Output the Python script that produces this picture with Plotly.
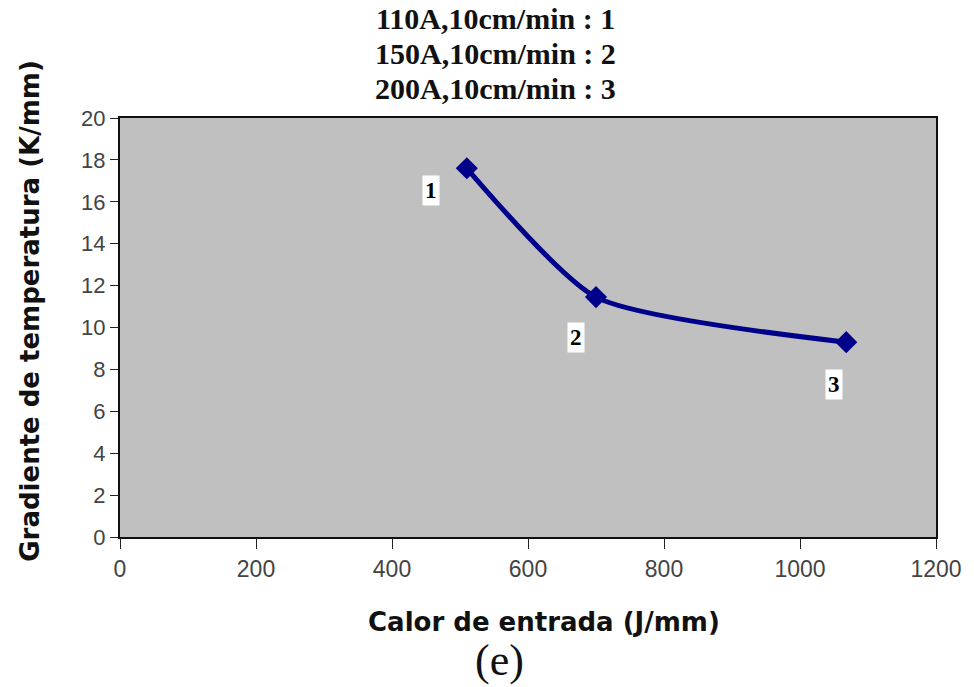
import plotly.graph_objects as go

heat_input = [510, 700, 1068]
gradient = [17.6, 11.45, 9.3]
point_labels = ["1", "2", "3"]
legend_lines = ["110A,10cm/min : 1", "150A,10cm/min : 2", "200A,10cm/min : 3"]
x_ticks = [0, 200, 400, 600, 800, 1000, 1200]
y_ticks = [0, 2, 4, 6, 8, 10, 12, 14, 16, 18, 20]
x_title = "Calor de entrada (J/mm)"
y_title = "Gradiente de temperatura (K/mm)"

fig = go.Figure()
fig.add_trace(go.Scatter(
    x=heat_input, y=gradient, mode="lines+markers",
    line=dict(color="#00008B", width=5, shape="spline", smoothing=0.6),
    marker=dict(symbol="diamond", size=17, color="#00008B"),
    showlegend=False, hoverinfo="skip"))

offsets = [(-36, 22), (-20, 40), (-12, 42)]
for xv, yv, lab, (ax, ay) in zip(heat_input, gradient, point_labels, offsets):
    fig.add_annotation(x=xv, y=yv, text="<b>" + lab + "</b>", showarrow=False,
                       xshift=ax, yshift=-ay, bgcolor="white",
                       font=dict(family="Liberation Serif", size=23, color="black"),
                       borderpad=2)

for i, line in enumerate(legend_lines):
    fig.add_annotation(xref="paper", yref="paper", x=0.46, y=1.0,
                       yshift=100 - i * 35, text="<b>" + line + "</b>",
                       showarrow=False, yanchor="middle", xanchor="center",
                       font=dict(family="Liberation Serif", size=30, color="#111"))

fig.add_annotation(xref="paper", yref="paper", x=0.465, y=0, yshift=-123,
                   text="(e)", showarrow=False, yanchor="middle",
                   font=dict(family="Liberation Serif", size=44, color="#111"))

fig.add_annotation(xref="paper", yref="paper", x=0.52, y=0, yshift=-85,
                   text="<b>" + x_title + "</b>", showarrow=False, yanchor="middle",
                   font=dict(family="DejaVu Sans", size=26, color="#111"))
fig.add_annotation(xref="paper", yref="paper", x=0, xshift=-90, y=0.54,
                   text="<b>" + y_title + "</b>", showarrow=False, textangle=-90,
                   xanchor="center", yanchor="middle",
                   font=dict(family="DejaVu Sans", size=26, color="#111"))

fig.update_layout(
    width=974, height=687,
    margin=dict(l=120, r=36, t=118, b=150),
    paper_bgcolor="white", plot_bgcolor="#c0c0c0",
    xaxis=dict(range=[0, 1200], tickvals=x_ticks, ticks="outside", ticklen=10,
               tickcolor="#222", showline=True, linecolor="#111", linewidth=2,
               mirror=True, showgrid=False, zeroline=False,
               tickfont=dict(family="Liberation Sans Narrow, Arial Narrow, Liberation Sans", size=23, color="#444")),
    yaxis=dict(range=[0, 20], tickvals=y_ticks, ticks="outside", ticklen=8,
               tickcolor="#222", showline=True, linecolor="#111", linewidth=2,
               mirror=True, showgrid=False, zeroline=False,
               tickfont=dict(family="Liberation Sans", size=22, color="#444")),
)

fig.write_html("out.html")
